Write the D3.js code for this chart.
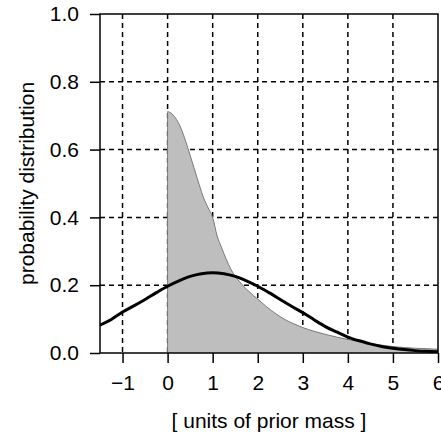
<!DOCTYPE html>
<html>
<head>
<meta charset="utf-8">
<script src="https://cdn.jsdelivr.net/npm/d3@7"></script>
<style>
  body { margin: 0; background: #fff; }
  svg text { font-family: "Liberation Sans", Arial, sans-serif; fill: #000; }
</style>
</head>
<body>
<div id="chart"></div>
<script>
// Data
const xTicks = [-1, 0, 1, 2, 3, 4, 5, 6];
const yTicks = [0, 0.2, 0.4, 0.6, 0.8, 1.0];
const xGrid = [-1, 0, 1, 2, 3, 4, 5];
const yGrid = [0.2, 0.4, 0.6, 0.8];

// black curve
const curveX = [-1.5, -1.25, -1, -0.75, -0.5, -0.25, 0, 0.25, 0.5, 0.75, 1, 1.25, 1.5, 1.75, 2,
  2.25, 2.5, 2.75, 3, 3.25, 3.5, 3.75, 4, 4.25, 4.5, 4.75, 5, 5.25, 5.5, 5.75, 6];
const curveY = [0.082, 0.099, 0.121, 0.139, 0.158, 0.178, 0.197, 0.213, 0.226, 0.234, 0.237, 0.234, 0.226, 0.213, 0.197,
  0.178, 0.158, 0.138, 0.119, 0.098, 0.078, 0.062, 0.047, 0.036, 0.027, 0.019, 0.014, 0.010, 0.007, 0.005, 0.004];

// gray filled distribution
const fillX = [0, 0, 0.1, 0.2, 0.3, 0.4, 0.5, 0.6, 0.7, 0.8, 0.9, 1.0, 1.1, 1.2, 1.3, 1.4, 1.5, 1.6, 1.7, 1.8, 1.9, 2.0,
  2.2, 2.4, 2.6, 2.8, 3.0, 3.25, 3.5, 3.75, 4.0, 4.5, 5.0, 5.5, 6.0];
const fillY = [0, 0.712, 0.705, 0.688, 0.662, 0.625, 0.583, 0.540, 0.497, 0.457, 0.428, 0.400, 0.345, 0.310, 0.277, 0.248, 0.226, 0.210, 0.195, 0.182, 0.170, 0.159,
  0.136, 0.116, 0.099, 0.086, 0.075, 0.064, 0.055, 0.047, 0.040, 0.028, 0.019, 0.014, 0.011];

const W = 441, H = 435;
const pLeft = 100, pRight = 438, pTop = 14, pBottom = 353;

const svg = d3.select("#chart").append("svg")
  .attr("width", W)
  .attr("height", H);

const x = d3.scaleLinear().domain([-1.5, 6]).range([pLeft, pRight]);
const y = d3.scaleLinear().domain([0, 1]).range([pBottom, pTop]);

svg.append("clipPath").attr("id", "plot")
  .append("rect")
  .attr("x", pLeft).attr("y", pTop)
  .attr("width", pRight - pLeft).attr("height", pBottom - pTop);

// grid
svg.append("g").selectAll("line").data(xGrid).join("line")
  .attr("x1", d => x(d)).attr("x2", d => x(d))
  .attr("y1", pTop).attr("y2", pBottom)
  .attr("stroke", "#000").attr("stroke-width", 1.5)
  .attr("stroke-dasharray", "5,4");

svg.append("g").selectAll("line").data(yGrid).join("line")
  .attr("x1", pLeft).attr("x2", pRight)
  .attr("y1", d => y(d)).attr("y2", d => y(d))
  .attr("stroke", "#000").attr("stroke-width", 1.5)
  .attr("stroke-dasharray", "5,4");

const plot = svg.append("g").attr("clip-path", "url(#plot)");

const fillPts = fillX.map((v, i) => [v, fillY[i]]);
fillPts.push([6, 0]);
plot.append("path")
  .datum(fillPts)
  .attr("fill", "#bebebe")
  .attr("stroke", "#7a7a7a")
  .attr("stroke-width", 1)
  .attr("d", d3.line().x(d => x(d[0])).y(d => y(d[1])).curve(d3.curveMonotoneX));

plot.append("path")
  .datum(curveX.map((v, i) => [v, curveY[i]]))
  .attr("fill", "none")
  .attr("stroke", "#000")
  .attr("stroke-width", 3)
  .attr("d", d3.line().x(d => x(d[0])).y(d => y(d[1])).curve(d3.curveCatmullRom));

// box
svg.append("rect")
  .attr("x", pLeft).attr("y", pTop)
  .attr("width", pRight - pLeft).attr("height", pBottom - pTop)
  .attr("fill", "none").attr("stroke", "#000").attr("stroke-width", 1.5);

// axes
const fmtX = d => d < 0 ? "\u2212" + Math.abs(d) : String(d);
const xAxis = svg.append("g")
  .attr("transform", `translate(0,${pBottom})`)
  .call(d3.axisBottom(x).tickValues(xTicks).tickFormat(fmtX).tickSize(10).tickPadding(12));
const yAxis = svg.append("g")
  .attr("transform", `translate(${pLeft},0)`)
  .call(d3.axisLeft(y).tickValues(yTicks).tickFormat(d3.format(".1f")).tickSize(10).tickPadding(11));

[xAxis, yAxis].forEach(a => {
  a.select(".domain").remove();
  a.selectAll(".tick line").attr("stroke", "#000").attr("stroke-width", 1.5);
  a.selectAll(".tick text").attr("font-size", 21).attr("fill", "#000")
    .style("font-family", "'Liberation Sans', Arial, sans-serif");
});

// titles
svg.append("text")
  .attr("x", (pLeft + pRight) / 2).attr("y", 428)
  .attr("text-anchor", "middle")
  .attr("font-size", 21)
  .text("[ units of prior mass ]");

svg.append("text")
  .attr("transform", `translate(34,${(pTop + pBottom) / 2}) rotate(-90)`)
  .attr("text-anchor", "middle")
  .attr("font-size", 21)
  .text("probability distribution");
</script>
</body>
</html>
